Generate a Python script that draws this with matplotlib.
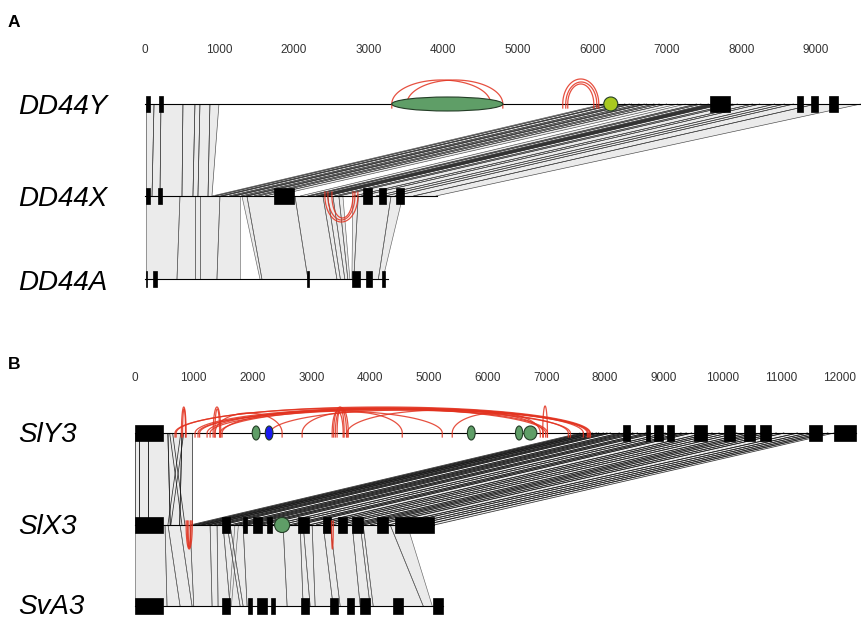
import numpy as np
import matplotlib.pyplot as plt
from matplotlib.collections import PolyCollection, LineCollection
from matplotlib.patches import Ellipse
from matplotlib.transforms import blended_transform_factory

plt.rcParams["font.family"] = ["Liberation Sans", "DejaVu Sans"]

# ------------------------------------------------------------------
# Panel A data (positions in bp)
# ------------------------------------------------------------------
A_TICKS = [0, 1000, 2000, 3000, 4000, 5000, 6000, 7000, 8000, 9000]
A_GENES = ["DD44Y", "DD44X", "DD44A"]
A_LENGTHS = [9600, 3910, 3260]

DD44Y_EXONS = [(13, 67), (188, 241), (7580, 7840), (8740, 8830),
               (8930, 9020), (9180, 9290)]
DD44X_EXONS = [(13, 67), (174, 228), (1730, 1998), (2924, 3044),
               (3139, 3232), (3366, 3473)]
DD44A_EXONS = [(13, 27), (107, 161), (2172, 2199), (2775, 2882),
               (2962, 3043), (3177, 3218)]

# (start, end, kind)
DD44Y_DOMAINS = [(3310, 4800, "green"), (6153, 6341, "lime_circle")]

# arcs: (start, end)
DD44Y_ARCS = [(3310, 4638), (3512, 4799), (5603, 6086), (5643, 6059), (5670, 6019)]
DD44X_ARCS = [(2413, 2855), (2453, 2815), (2507, 2788)]

# alignment blocks: (upper start, upper end, lower start, lower end)
A_YX_BLOCKS = [
    (13, 121, 13, 94), (121, 214, 94, 201), (214, 509, 201, 496),
    (509, 670, 496, 643), (670, 737, 643, 710), (737, 871, 710, 845),
    (871, 992, 845, 898),
    (6150, 6200, 900, 940), (6200, 6300, 940, 1010), (6300, 6330, 1010, 1040),
    (6330, 6440, 1040, 1130), (6440, 6500, 1130, 1180), (6500, 6530, 1180, 1205),
    (6530, 6630, 1205, 1290), (6630, 6700, 1290, 1350), (6700, 6730, 1350, 1375),
    (6730, 6830, 1375, 1460), (6830, 6900, 1460, 1520), (6900, 7000, 1520, 1610),
    (7000, 7150, 1610, 1730),
    (7250, 7400, 2080, 2180), (7400, 7460, 2180, 2220), (7460, 7560, 2220, 2290),
    (7560, 7600, 2290, 2320), (7600, 7620, 2320, 2335), (7620, 7640, 2335, 2350),
    (7640, 7660, 2350, 2365), (7660, 7680, 2365, 2380), (7680, 7700, 2380, 2395),
    (7700, 7720, 2395, 2410), (7720, 7740, 2410, 2425), (7740, 7760, 2425, 2440),
    (7760, 7880, 2440, 2540), (7880, 7950, 2540, 2600), (7950, 8150, 2600, 2800),
    (8150, 8250, 2800, 2900), (8250, 8450, 2900, 3100), (8450, 8580, 3100, 3220),
    (8580, 8700, 3220, 3350), (8700, 9000, 3350, 3600), (9000, 9600, 3600, 3900),
]
A_XA_BLOCKS = [
    (13, 469, 13, 429), (469, 670, 429, 670), (670, 737, 670, 737),
    (737, 1005, 737, 965), (1005, 1273, 965, 1273),
    (1300, 1367, 1542, 1568), (1367, 2011, 1568, 2185), (2011, 2386, 2185, 2574),
    (2386, 2450, 2574, 2620), (2450, 2520, 2620, 2680), (2520, 2600, 2680, 2720),
    (2600, 2654, 2720, 2748),
    (2788, 2860, 2775, 2800), (2860, 3300, 2800, 3130), (3300, 3458, 3130, 3190),
]

# ------------------------------------------------------------------
# Panel B data (positions in bp)
# ------------------------------------------------------------------
B_TICKS = [0, 1000, 2000, 3000, 4000, 5000, 6000, 7000, 8000, 9000,
           10000, 11000, 12000]
B_GENES = ["SlY3", "SlX3", "SvA3"]
B_LENGTHS = [12280, 5090, 5250]

SLY3_EXONS = [(0, 470), (8310, 8430), (8690, 8760), (8840, 8980), (9050, 9180),
              (9510, 9740), (10020, 10220), (10370, 10550), (10630, 10820),
              (11480, 11690), (11890, 12280)]
SLX3_EXONS = [(0, 480), (1480, 1620), (1840, 1910), (2010, 2160), (2250, 2330),
              (2780, 2960), (3200, 3340), (3460, 3610), (3700, 3880),
              (4120, 4310), (4430, 5090)]
SVA3_EXONS = [(0, 480), (1480, 1620), (1920, 2000), (2080, 2250), (2320, 2390),
              (2830, 2970), (3320, 3460), (3610, 3730), (3830, 4000),
              (4400, 4560), (5080, 5250)]

SLY3_DOMAINS = [(1995, 2127, "green"), (2217, 2349, "blue"), (5658, 5790, "green"),
                (6476, 6600, "green"), (6620, 6840, "green")]
SLX3_DOMAINS = [(2376, 2632, "green_circle")]

SLY3_ARCS = [
    (681, 7751), (1022, 7717), (1073, 7700), (1227, 7632), (1278, 7411),
    (1448, 7376), (1482, 5230), (1363, 2504), (2845, 4549), (5400, 6899),
    (3612, 6951), (790, 870), (810, 860), (1330, 1460), (1360, 1440),
    (3380, 3600), (3410, 3630), (3440, 3560), (3356, 3543), (6940, 7020),
    (700, 6990), (1100, 7740), (2300, 7020),
]
SLX3_ARCS = [(870, 975), (890, 955), (905, 940), (3345, 3375)]

B_YX_BLOCKS = [
    (0, 60, 0, 60), (60, 220, 60, 220), (220, 560, 220, 600),
    (560, 800, 600, 760), (800, 971, 760, 971),
    (590, 640, 800, 850), (780, 830, 560, 610),
    (7580, 7640, 940, 1000), (7640, 7700, 1000, 1060), (7700, 7760, 1060, 1120),
    (7760, 7790, 1120, 1150), (7790, 7860, 1150, 1220), (7860, 7900, 1220, 1260),
    (7900, 7980, 1260, 1340), (7980, 8040, 1340, 1410), (8040, 8100, 1410, 1480),
    (8100, 8250, 1480, 1620), (8250, 8330, 1620, 1700), (8330, 8400, 1700, 1770),
    (8400, 8480, 1770, 1840), (8480, 8560, 1840, 1910), (8560, 8700, 1910, 2010),
    (8700, 8780, 2010, 2080), (8780, 8860, 2080, 2160), (8860, 9030, 2160, 2330),
    (9030, 9160, 2330, 2470), (9160, 9300, 2470, 2620), (9300, 9390, 2620, 2700),
    (9390, 9480, 2700, 2780), (9480, 9700, 2780, 2960), (9700, 9830, 2960, 3080),
    (9830, 9950, 3080, 3200), (9950, 10100, 3200, 3340), (10100, 10250, 3340, 3460),
    (10250, 10420, 3460, 3610), (10420, 10550, 3610, 3700), (10550, 10660, 3700, 3790),
    (10660, 10780, 3790, 3880), (10780, 10920, 3880, 4000), (10920, 11050, 4000, 4120),
    (11050, 11280, 4120, 4310), (11280, 11450, 4310, 4430), (11450, 11580, 4430, 4600),
    (11580, 11700, 4600, 4750), (11700, 11800, 4750, 4920), (11800, 11900, 4920, 5090),
]
B_XA_BLOCKS = [
    (0, 511, 0, 545), (511, 562, 545, 767), (562, 767, 767, 971),
    (767, 937, 971, 1000), (937, 1278, 1000, 1312), (1278, 1397, 1312, 1414),
    (1397, 1499, 1414, 1618), (1499, 1567, 1618, 1789), (1567, 1618, 1789, 1840),
    (1618, 1840, 1840, 1908), (1700, 1760, 1600, 1640), (1840, 2521, 1908, 2589),
    (2521, 2811, 2589, 2862), (2811, 2862, 2862, 2981), (2862, 3015, 2981, 3066),
    (3015, 3203, 3066, 3373), (3203, 3322, 3373, 3492), (3322, 3697, 3492, 3833),
    (3697, 3833, 3833, 4003), (3833, 3884, 4003, 4054), (3884, 4344, 4054, 4906),
    (4344, 4634, 4906, 5060),
]

# ------------------------------------------------------------------
# layout (pixel units)
# ------------------------------------------------------------------
W, H = 862, 620
A_SCALE, A_X0 = 0.07456, 145   # px per bp, px of bp 0
B_SCALE, B_X0 = 0.05875, 135
A_ROWS = [104, 196, 279]
B_ROWS = [433, 525, 606]
EXON_H = 16
ARC_H = 25
ARC_LEG = 4

COLORS = {"green": "#5f9e67", "green_circle": "#5f9e67", "blue": "#1a1af2",
          "lime_circle": "#a8c920"}
BAND_FILL = "#ebebeb"
ARC_COLOR = "#e2321f"


def draw_bands(ax, blocks, y_top, y_bot, edge="#2a2a2a", lw=0.5):
    polys = [[(a0, y_top), (a1, y_top), (b1, y_bot), (b0, y_bot)]
             for a0, a1, b0, b1 in blocks]
    ax.add_collection(PolyCollection(polys, facecolors=BAND_FILL,
                                     edgecolors="none", zorder=1))
    segs = []
    for a0, a1, b0, b1 in blocks:
        segs.append([(a0, y_top), (b0, y_bot)])
        segs.append([(a1, y_top), (b1, y_bot)])
    ax.add_collection(LineCollection(segs, colors=edge, linewidths=lw,
                                     alpha=0.9, zorder=1.5))


def draw_gene(ax, y, length, exons):
    ax.plot([0, length], [y, y], color="black", lw=0.8, zorder=2)
    for s, e in exons:
        ax.add_patch(plt.Rectangle((s, y - EXON_H / 2), e - s, EXON_H,
                                   facecolor="black", edgecolor="black",
                                   lw=0.5, zorder=3))


def draw_arcs(ax, arcs, y, up=True, heights=None):
    t = np.linspace(0, np.pi, 60)
    sign = -1 if up else 1
    for i, (s, e) in enumerate(arcs):
        h = ARC_H if heights is None else heights[i]
        xs = s + (e - s) * (1 - np.cos(t)) / 2
        ys = y + sign * h * np.sin(t)
        xs = np.concatenate([[s], xs, [e]])
        ys = np.concatenate([[y - sign * ARC_LEG], ys, [y - sign * ARC_LEG]])
        ax.plot(xs, ys, color=ARC_COLOR, lw=0.9, alpha=0.85, zorder=4)


def draw_domains(ax, domains, y, scale, h=14):
    for s, e, kind in domains:
        hh = (e - s) * scale if kind.endswith("circle") else h
        ax.add_patch(Ellipse(((s + e) / 2, y), e - s, hh,
                             facecolor=COLORS[kind], edgecolor="#233d26",
                             lw=0.8, zorder=5))


def setup_axis(ax, scale, x0, top, bottom):
    ax.set_xlim(-x0 / scale, (W - x0) / scale)
    ax.set_ylim(bottom, top)
    ax.axis("off")


fig = plt.figure(figsize=(W / 100, H / 100), dpi=100)
axA = fig.add_axes([0, 0.5, 1, 0.5])
axB = fig.add_axes([0, 0, 1, 0.5])
setup_axis(axA, A_SCALE, A_X0, 0, 310)
setup_axis(axB, B_SCALE, B_X0, 310, 620)

# ---- panel A ----
draw_bands(axA, A_YX_BLOCKS, A_ROWS[0], A_ROWS[1], edge="#333333", lw=0.45)
draw_bands(axA, A_XA_BLOCKS, A_ROWS[1], A_ROWS[2], edge="#555555", lw=0.45)
for y, length, exons in zip(A_ROWS, A_LENGTHS, [DD44Y_EXONS, DD44X_EXONS, DD44A_EXONS]):
    draw_gene(axA, y, length, exons)
draw_arcs(axA, DD44Y_ARCS, A_ROWS[0], up=True, heights=[24, 24, 25, 22, 20])
draw_arcs(axA, DD44X_ARCS, A_ROWS[1], up=False, heights=[26, 24, 22])
draw_domains(axA, DD44Y_DOMAINS, A_ROWS[0], A_SCALE, h=14)
for t in A_TICKS:
    axA.text(t, 50, str(t), ha="center", va="center", fontsize=8.5, color="#333333")

# ---- panel B ----
draw_bands(axB, B_YX_BLOCKS, B_ROWS[0], B_ROWS[1], edge="#1a1a1a", lw=0.55)
draw_bands(axB, B_XA_BLOCKS, B_ROWS[1], B_ROWS[2], edge="#555555", lw=0.45)
for y, length, exons in zip(B_ROWS, B_LENGTHS, [SLY3_EXONS, SLX3_EXONS, SVA3_EXONS]):
    draw_gene(axB, y, length, exons)
draw_arcs(axB, SLY3_ARCS, B_ROWS[0], up=True,
          heights=[26, 25, 24, 25, 23, 24, 22, 20, 21, 20, 23,
                   26, 24, 26, 24, 26, 25, 24, 22, 27, 25, 24, 23])
draw_arcs(axB, SLX3_ARCS, B_ROWS[1], up=False, heights=[24, 23, 22, 24])
draw_domains(axB, SLY3_DOMAINS, B_ROWS[0], B_SCALE, h=14)
draw_domains(axB, SLX3_DOMAINS, B_ROWS[1], B_SCALE)
for t in B_TICKS:
    axB.text(t, 378, str(t), ha="center", va="center", fontsize=8.5, color="#333333")

# ---- labels ----
for ax, rows, names, dy in [(axA, A_ROWS, A_GENES, 10.5), (axB, B_ROWS, B_GENES, 8.5)]:
    tr = blended_transform_factory(ax.transAxes, ax.transData)
    for y, name in zip(rows, names):
        ax.text(18 / W, y + dy, name, transform=tr, ha="left", va="baseline",
                fontsize=20, style="italic", color="black")

fig.text(8 / W, 1 - 27 / H, "A", ha="left", va="baseline", fontsize=12.5,
         fontweight="bold")
fig.text(8 / W, 1 - 369 / H, "B", ha="left", va="baseline", fontsize=12.5,
         fontweight="bold")

fig.savefig("out.png", dpi=100)
